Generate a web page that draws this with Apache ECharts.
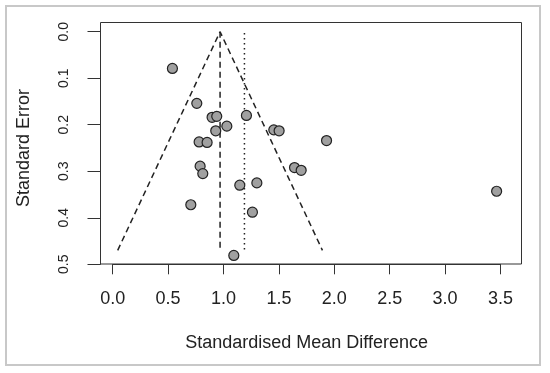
<!DOCTYPE html>
<html>
<head>
<meta charset="utf-8">
<script src="https://cdn.jsdelivr.net/npm/echarts@6/dist/echarts.min.js"></script>
<style>
html,body{margin:0;padding:0;background:#fff;}
#c{width:550px;height:373px;}
</style>
</head>
<body>
<div id="c"></div>
<script>
// Study effect sizes (standardised mean difference) and standard errors
var smd = [0.539, 0.759, 0.897, 0.939, 1.207, 1.030, 0.930, 1.454, 1.502, 1.930, 0.780,
           0.852, 0.789, 0.813, 1.641, 1.701, 1.147, 1.301, 0.705, 1.261, 1.093, 3.465];
var se  = [0.079, 0.154, 0.184, 0.182, 0.180, 0.203, 0.213, 0.211, 0.213, 0.234, 0.237,
           0.238, 0.289, 0.305, 0.292, 0.298, 0.330, 0.325, 0.372, 0.388, 0.481, 0.343];
// Funnel (pseudo 95% limits) and reference lines
var funnelX = [0.045, 0.969, 1.893];
var funnelY = [0.470, 0.000, 0.470];
var estX = [0.969, 0.969];
var estY = [0.000, 0.470];
var refX = [1.189, 1.189];
var refY = [0.003, 0.473];
var xTicks = [0, 0.5, 1, 1.5, 2, 2.5, 3, 3.5];
var yTicks = [0, 0.1, 0.2, 0.3, 0.4, 0.5];

function zip(a, b) { return a.map(function (v, i) { return [v, b[i]]; }); }

var chart = echarts.init(document.getElementById('c'), null, {renderer: 'canvas'});
var font = 'Liberation Sans, Arial, Helvetica, sans-serif';
var ink = '#222';

chart.setOption({
  animation: false,
  backgroundColor: '#fff',
  graphic: [{
    type: 'rect',
    shape: {x: 6, y: 6, width: 534, height: 359},
    style: {fill: 'none', stroke: '#c8c8c8', lineWidth: 2},
    silent: true, z: -10
  }, {
    type: 'rect',
    shape: {x: 100.5, y: 22.5, width: 421, height: 241.5},
    style: {fill: 'none', stroke: '#333', lineWidth: 1},
    silent: true, z: -5
  }],
  grid: [
    {left: 112.7, right: 49.5, top: 31.7, bottom: 108.7, show: false}
  ],
  xAxis: [
    {type: 'value', min: 0, max: 3.5, interval: 0.5,
     name: 'Standardised Mean Difference', nameLocation: 'middle', nameGap: 70,
     nameTextStyle: {fontFamily: font, fontSize: 18, color: ink},
     axisLine: {show: true, onZero: false, lineStyle: {color: '#333', width: 1}},
     axisTick: {show: true, length: 10, lineStyle: {color: '#333', width: 1}},
     axisLabel: {fontFamily: font, fontSize: 18, color: ink, margin: 26,
                 formatter: function (v) { return v.toFixed(1); }},
     splitLine: {show: false}}
  ],
  yAxis: [
    {type: 'value', inverse: true, min: 0, max: 0.5, interval: 0.1,
     offset: 12.2,
     name: 'Standard Error', nameLocation: 'middle', nameGap: 67,
     nameTextStyle: {fontFamily: font, fontSize: 18, color: ink},
     axisLine: {show: true, onZero: false, lineStyle: {color: '#333', width: 1}},
     axisTick: {show: true, length: 13, lineStyle: {color: '#333', width: 1}},
     axisLabel: {fontFamily: font, fontSize: 14, color: ink, rotate: 90, margin: 29,
                 formatter: function (v) { return v.toFixed(1); }},
     splitLine: {show: false}}
  ],
  series: [
    {type: 'line', data: zip(funnelX, funnelY),
     symbol: 'none', lineStyle: {color: '#222', width: 1.5, type: [6, 4]}, z: 2},
    {type: 'line', data: zip(estX, estY),
     symbol: 'none', lineStyle: {color: '#222', width: 1.5, type: [6, 4]}, z: 2},
    {type: 'line', data: zip(refX, refY),
     symbol: 'none', lineStyle: {color: '#222', width: 1.5, type: [1.5, 3.5]}, z: 2},
    {type: 'scatter', data: zip(smd, se),
     symbol: 'circle', symbolSize: 10, clip: false,
     itemStyle: {color: '#a0a0a0', borderColor: '#222', borderWidth: 1.2, opacity: 1}, z: 5}
  ]
});
</script>
</body>
</html>
